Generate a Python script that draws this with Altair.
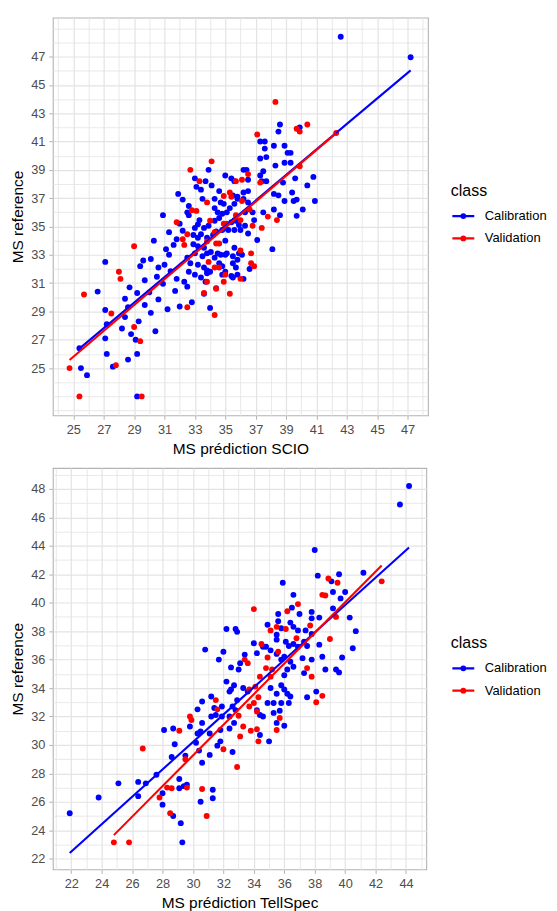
import altair as alt
import pandas as pd

classes = ["Calibration", "Validation"]
colors = ["#0000FF", "#FF0000"]

# ---------------- top panel : MS prédiction SCIO ----------------
top_cal = [
    (42.6, 48.4), (47.2, 46.95), (38.6, 42.2), (38.5, 41.7), (39.9, 42.0), (37.3, 41.0), (37.6, 41.0),
    (38.2, 40.7), (38.9, 40.7), (37.6, 40.5), (39.1, 40.2), (39.3, 40.2), (37.3, 39.8), (37.7, 39.9),
    (38.3, 39.3), (38.9, 39.5), (39.3, 39.5), (37.5, 38.9), (37.3, 38.6), (36.2, 39.0), (36.4, 39.0),
    (33.9, 39.0), (35.0, 38.6), (35.4, 38.4), (35.6, 38.2), (36.5, 38.3), (37.4, 38.2), (37.7, 38.2),
    (38.8, 38.1), (39.6, 38.4), (40.8, 38.5), (40.4, 37.9), (40.9, 36.8), (40.1, 36.2), (39.7, 35.75),
    (39.4, 37.4), (39.7, 36.9), (38.9, 36.8), (39.5, 36.8), (38.2, 37.3), (38.5, 37.2), (38.2, 36.2),
    (38.6, 35.8), (38.1, 33.4), (37.1, 34.05), (36.5, 34.5), (36.9, 35.45), (37.5, 36.0), (36.2, 37.4),
    (36.5, 37.5), (35.8, 37.1), (36.2, 36.95), (36.5, 36.7), (36.8, 36.0), (36.3, 36.0), (34.5, 36.0),
    (34.8, 35.9), (34.3, 36.3), (34.7, 36.7), (34.9, 36.6), (35.4, 35.3), (35.6, 35.45), (35.9, 35.1),
    (36.3, 35.05), (34.8, 34.75), (35.2, 34.75), (35.6, 34.75), (36.0, 34.75), (35.0, 34.0), (35.6, 33.5),
    (35.9, 33.1), (36.1, 33.0), (35.0, 33.0), (34.5, 33.1), (34.05, 33.2), (33.5, 32.9), (34.6, 32.4),
    (35.5, 32.4), (35.7, 32.1), (33.8, 31.9), (34.0, 31.8), (34.8, 31.6), (35.5, 31.4), (36.2, 31.3),
    (36.6, 32.0), (33.7, 31.1), (27.1, 32.5), (29.4, 32.2), (30.3, 34.0), (30.9, 35.8), (31.0, 32.3),
    (31.8, 34.1), (31.9, 37.3), (32.2, 34.7), (33.0, 38.4), (33.7, 38.2), (34.6, 37.5), (35.5, 37.2),
    (33.5, 36.95), (34.3, 36.95), (32.6, 36.45), (32.5, 36.0), (32.6, 35.8), (33.3, 35.45), (33.2, 35.15),
    (33.0, 34.9), (33.6, 34.9), (33.9, 35.05), (34.3, 35.4), (34.6, 35.6), (35.1, 36.0), (35.3, 36.3),
    (35.6, 36.6), (35.8, 36.95), (35.0, 34.9), (35.7, 35.4), (32.9, 34.4), (33.2, 34.2), (33.4, 34.45),
    (33.8, 34.2), (34.2, 34.4), (34.4, 34.65), (32.9, 33.75), (33.2, 33.6), (33.6, 33.5), (33.0, 33.1),
    (33.8, 33.1), (32.5, 32.8), (32.7, 32.4), (33.2, 32.3), (33.6, 32.1), (34.3, 32.8), (34.7, 33.0),
    (35.1, 33.1), (35.5, 32.9), (35.8, 32.65), (34.8, 32.2), (35.0, 31.8), (35.4, 31.5), (35.8, 31.6),
    (32.6, 31.8), (33.0, 31.6), (33.4, 31.4), (33.8, 31.7), (31.8, 31.3), (32.3, 31.1), (25.5, 25.0),
    (25.9, 24.5), (25.4, 26.4), (27.1, 27.1), (27.2, 26.0), (27.6, 25.1), (29.2, 23.0), (26.6, 30.4),
    (27.1, 29.1), (27.2, 28.1), (28.6, 29.3), (28.8, 27.4), (29.1, 27.0), (29.2, 26.0), (28.6, 25.6),
    (28.4, 29.9), (29.2, 30.3), (29.7, 31.2), (28.7, 30.7), (28.4, 28.6), (29.3, 28.3), (30.1, 28.9),
    (28.2, 27.8), (30.4, 27.6), (29.7, 29.45), (30.6, 29.85), (31.2, 29.15), (32.0, 29.35), (32.8, 29.65),
    (34.0, 29.25), (30.9, 30.95), (31.7, 30.45), (32.5, 30.75), (33.6, 30.25), (34.4, 30.65), (30.0, 30.35),
    (30.5, 31.45), (31.4, 31.85), (30.1, 32.7), (31.3, 33.0), (30.6, 32.1), (29.6, 32.6), (31.1, 33.4),
    (31.6, 33.7), (31.3, 34.6), (32.2, 36.9), (33.4, 37.6), (33.1, 37.8),
    (34.1, 37.9), (32.0, 35.2),
]
top_val = [
    (40.4, 42.2), (39.7, 41.9), (39.9, 41.7), (42.3, 41.6), (37.1, 41.5), (38.3, 43.8), (34.1, 39.6),
    (39.9, 39.25), (36.5, 38.7), (35.7, 38.2), (36.1, 38.3), (37.3, 38.1), (35.3, 37.4), (34.9, 37.15),
    (35.4, 37.1), (36.1, 36.8), (33.8, 36.7), (36.6, 36.2), (37.8, 35.7), (38.4, 35.45), (35.7, 35.8),
    (36.0, 35.45), (34.0, 35.4), (34.9, 35.2), (35.1, 35.2), (36.8, 35.05), (37.4, 34.9), (34.3, 34.6),
    (33.8, 33.95), (34.4, 33.8), (34.6, 33.8), (36.0, 33.3), (36.7, 33.1), (33.9, 32.5), (34.3, 32.1),
    (34.6, 32.1), (36.9, 32.2), (35.0, 31.6), (33.8, 31.1), (34.9, 31.1), (34.4, 30.6), (35.3, 30.25),
    (33.6, 30.3), (28.0, 31.8), (29.0, 33.6), (31.8, 35.3), (32.2, 34.1), (32.3, 33.7), (32.5, 34.45),
    (32.7, 39.0), (33.3, 38.2), (32.8, 36.15), (33.1, 36.1), (25.7, 30.2), (28.1, 31.3), (27.5, 28.85),
    (29.4, 26.9), (29.0, 27.9), (24.75, 25.0), (25.4, 23.0), (29.5, 23.0), (27.8, 25.2), (32.5, 29.3),
    (34.3, 28.75), (36.0, 31.3), (36.7, 32.4),
]

# ---------------- bottom panel : MS prédiction TellSpec ----------------
bot_cal = [
    (44.2, 48.2), (43.6, 46.9), (38.0, 43.7), (21.9, 25.2), (23.8, 26.3), (25.1, 27.3), (26.4, 27.4),
    (26.9, 27.3), (26.4, 26.4), (27.6, 27.9), (28.8, 30.05), (28.6, 29.15), (29.5, 29.25), (30.2, 30.15),
    (30.4, 29.6), (30.6, 28.75), (31.1, 29.3), (31.6, 29.95), (31.8, 30.25), (32.6, 29.5), (29.1, 27.6),
    (29.1, 26.95), (28.0, 26.6), (28.0, 25.8), (28.7, 25.0), (29.2, 24.5), (29.3, 23.15), (29.4, 27.1),
    (29.6, 27.2), (31.3, 26.85), (31.3, 26.25), (30.5, 26.0), (41.2, 42.1), (39.6, 42.0), (38.2, 41.9),
    (39.1, 41.5), (39.2, 40.75), (40.0, 40.75), (39.7, 40.3), (39.2, 39.6), (40.3, 38.95), (40.7, 38.0),
    (40.5, 36.8), (39.8, 36.15), (38.5, 36.2), (39.4, 35.3), (39.6, 35.1), (38.7, 35.3), (38.1, 33.75),
    (37.5, 33.35), (35.9, 41.4), (36.6, 40.55), (36.5, 39.65), (37.0, 39.2), (37.8, 39.35), (38.3, 38.95),
    (37.8, 38.9), (35.6, 39.2), (35.6, 38.7), (36.4, 38.6), (36.6, 38.3), (34.9, 38.45), (35.8, 38.2),
    (36.9, 38.05), (37.4, 38.05), (37.8, 37.8), (35.5, 37.75), (35.5, 37.4), (36.1, 37.25), (36.3, 36.95),
    (36.6, 37.1), (36.9, 36.9), (37.3, 37.25), (37.5, 36.95), (38.3, 37.05), (32.2, 38.15), (32.8, 38.15),
    (32.9, 37.95), (30.8, 36.7), (32.0, 36.55), (31.7, 36.0), (32.5, 35.45), (33.0, 35.3), (33.1, 35.75),
    (33.4, 36.35), (34.0, 37.15), (34.6, 36.9), (34.8, 36.9), (35.1, 36.65), (34.2, 36.45), (35.5, 36.4),
    (35.8, 36.0), (36.0, 36.2), (36.4, 35.85), (36.6, 35.5), (37.2, 36.1), (37.8, 36.0), (37.3, 35.05),
    (36.2, 35.3), (36.0, 34.9), (35.5, 33.6), (36.2, 33.6), (36.4, 33.4), (35.8, 34.2), (36.0, 33.9),
    (35.1, 34.0), (34.9, 32.95), (35.3, 32.95), (35.8, 32.95), (36.3, 32.95), (34.2, 32.45), (34.4, 32.1),
    (32.9, 33.15), (32.5, 33.9), (32.2, 34.45), (32.4, 33.75), (32.7, 34.2), (33.3, 34.0), (33.6, 33.75),
    (31.2, 33.4), (30.6, 33.05), (30.3, 32.5), (31.4, 32.6), (31.9, 32.7), (31.5, 32.1), (31.2, 32.0),
    (31.9, 32.0), (32.4, 32.0), (32.6, 32.7), (32.8, 32.45), (30.6, 31.55), (29.8, 31.3), (30.3, 30.8),
    (30.5, 30.95), (31.1, 30.8), (31.8, 31.05), (32.4, 31.15), (32.7, 31.55), (28.7, 31.15), (28.1, 31.05),
    (34.4, 30.7), (35.0, 30.25), (35.5, 31.55), (36.0, 31.35), (34.6, 32.0), (35.3, 32.25), (35.7, 32.4),
]
bot_val = [
    (26.7, 29.75), (29.5, 29.0), (32.0, 29.7), (32.9, 28.45), (28.3, 27.0), (28.6, 26.95), (27.8, 26.3),
    (28.5, 25.2), (29.6, 27.0), (30.6, 26.9), (30.9, 25.0), (24.8, 23.15), (25.8, 23.15), (38.9, 41.7),
    (39.5, 41.4), (42.4, 41.5), (38.5, 40.55), (38.7, 40.5), (39.4, 39.0), (39.0, 37.45), (37.7, 38.4),
    (36.2, 39.4), (36.9, 39.9), (34.0, 39.55), (35.1, 38.05), (35.5, 38.3), (36.1, 38.15), (36.8, 37.5),
    (34.5, 37.1), (33.4, 36.0), (33.6, 35.75), (34.9, 36.15), (35.6, 36.55), (37.5, 35.4), (37.8, 34.8),
    (38.5, 33.45), (38.1, 33.0), (34.8, 35.4), (35.2, 35.3), (35.1, 34.8), (34.4, 34.8), (34.1, 34.1),
    (33.7, 33.9), (34.3, 33.35), (34.0, 32.95), (33.7, 32.7), (34.2, 32.35), (33.0, 32.05), (31.6, 32.5),
    (31.5, 33.15), (29.8, 32.0), (29.9, 31.75), (29.1, 31.0), (33.3, 31.3), (33.1, 30.6), (33.8, 31.0),
    (34.2, 31.1), (34.3, 30.25), (35.7, 31.9), (35.5, 31.05),
]

FONT = "Liberation Sans"
LEGEND_SYMBOL = "M-1,0L1,0M0.16,0A0.16,0.16,0,1,1,-0.16,0A0.16,0.16,0,1,1,0.16,0Z"


def make_df(cal, val):
    rows = [(x, y, classes[0]) for x, y in cal] + [(x, y, classes[1]) for x, y in val]
    return pd.DataFrame(rows, columns=["x", "y", "class"])


def make_axis(title, dom, lo, hi, parity):
    vals = list(range(int(dom[0]) + 1, int(dom[1]) + 1))
    cond = f"datum.value % 2 == {parity} && datum.value >= {lo} && datum.value <= {hi}"
    return alt.Axis(
        title=title,
        values=vals,
        labelExpr=f"({cond}) ? datum.label : ''",
        gridWidth={"condition": {"test": cond, "value": 1.2}, "value": 0.8},
        tickOpacity={"condition": {"test": cond, "value": 1}, "value": 0},
        labelOverlap=False,
        labelFlush=False,
    )


def make_legend(lx, ly):
    return alt.Legend(
        title="class",
        orient="none",
        legendX=lx,
        legendY=ly,
        symbolType=LEGEND_SYMBOL,
        symbolSize=484,
        symbolStrokeWidth=2.4,
        rowPadding=2.4,
        titlePadding=5,
        labelOffset=9,
        padding=0,
    )


def panel(df, xdom, ydom, xaxis, yaxis, w, h, lx, ly):
    cscale = alt.Scale(domain=classes, range=colors)
    x = alt.X("x:Q", scale=alt.Scale(domain=xdom, nice=False, zero=False), axis=xaxis)
    y = alt.Y("y:Q", scale=alt.Scale(domain=ydom, nice=False, zero=False), axis=yaxis)
    legend = make_legend(lx, ly)
    pts = alt.Chart(df).mark_circle(size=35, opacity=1).encode(
        x=x, y=y, color=alt.Color("class:N", scale=cscale, legend=legend)
    )
    lines = (
        alt.Chart(df)
        .transform_regression("x", "y", groupby=["class"])
        .mark_line(strokeWidth=2.1)
        .encode(x=x, y=y, color=alt.Color("class:N", scale=cscale, legend=legend))
    )
    return alt.layer(pts, lines).properties(width=w, height=h)


top_xdom = [23.65, 48.34]
top_ydom = [21.66, 49.75]
bot_xdom = [20.79, 45.33]
bot_ydom = [21.25, 49.47]

top = panel(
    make_df(top_cal, top_val), top_xdom, top_ydom,
    make_axis("MS prédiction SCIO", top_xdom, 25, 47, 1),
    make_axis("MS reference", top_ydom, 25, 47, 1),
    376.5, 399.2, 399.5, 165.7,
)
bot = panel(
    make_df(bot_cal, bot_val), bot_xdom, bot_ydom,
    make_axis("MS prédiction TellSpec", bot_xdom, 22, 44, 0),
    make_axis("MS reference", bot_ydom, 22, 48, 0),
    374.8, 402.9, 399.5, 167.6,
)

chart = (
    alt.vconcat(top, bot, spacing=9)
    .resolve_scale(x="independent", y="independent", color="independent")
    .resolve_legend(color="independent")
    .properties(padding={"left": 2, "top": 7, "right": 0, "bottom": 0})
    .configure_view(stroke="#B3B3B3", strokeWidth=1.1)
    .configure_axis(
        domain=False,
        gridColor="#E3E3E3",
        tickColor="#B3B3B3",
        tickSize=4,
        tickWidth=1,
        labelColor="#4D4D4D",
        labelFont=FONT,
        labelFontSize=12.8,
        labelPadding=4,
        titleFont=FONT,
        titleFontSize=15.5,
        titleFontWeight="normal",
        titleColor="#000000",
        titlePadding=5,
    )
    .configure_legend(
        labelFont=FONT,
        labelFontSize=13,
        labelColor="#000000",
        titleFont=FONT,
        titleFontSize=16,
        titleFontWeight="normal",
        titleColor="#000000",
    )
)

chart.save("out.html", embed_options={"renderer": "svg", "actions": False})
